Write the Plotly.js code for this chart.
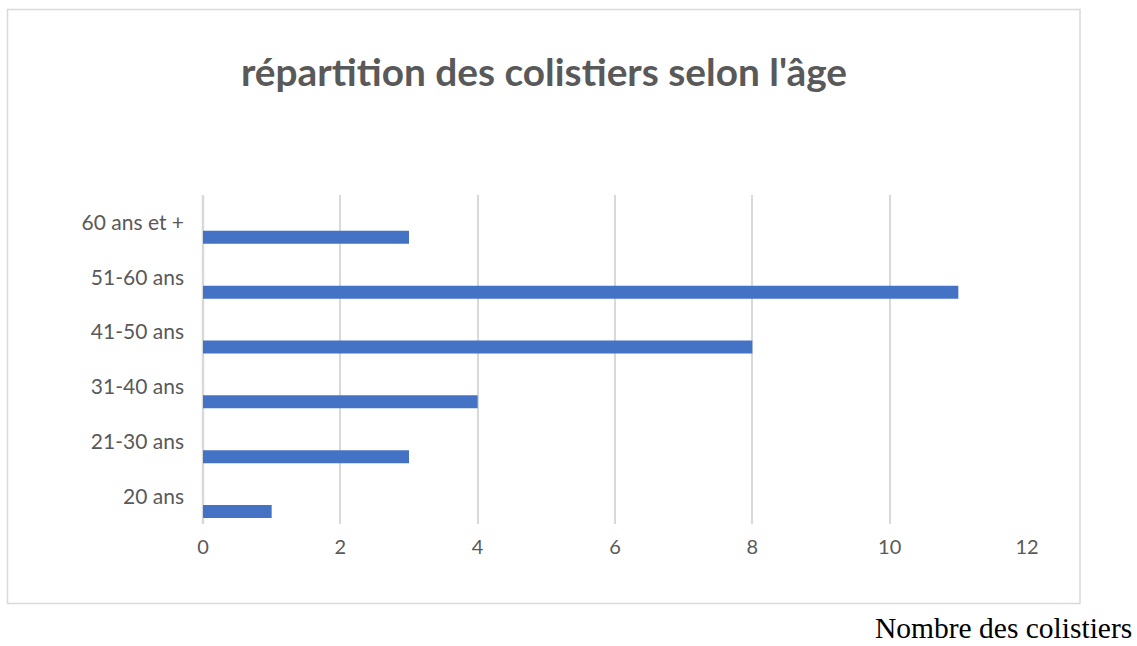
<!DOCTYPE html>
<html>
<head>
<meta charset="utf-8">
<script src="https://cdn.plot.ly/plotly-3.0.1.min.js"></script>
<style>html,body{margin:0;padding:0;background:#fff;}#chart{width:1137px;height:646px;}</style>
</head>
<body>
<div id="chart"></div>
<script>
const categories = ["20 ans", "21-30 ans", "31-40 ans", "41-50 ans", "51-60 ans", "60 ans et +"];
const values = [1, 3, 4, 8, 11, 3];
const xTicks = [0, 2, 4, 6, 8, 10, 12];
const titleText = "répartition des colistiers selon l'âge";
const xCaption = "Nombre des colistiers";

const L = 203, R = 1027, T = 195, B = 524;
const pw = R - L, ph = B - T;
const px = v => (v - L) / pw;
const py = v => (B - v) / ph;

const trace = {
  type: 'bar',
  orientation: 'h',
  x: values,
  y: categories,
  width: 0.237,
  offset: -0.39,
  marker: {color: '#4472C4'},
  hoverinfo: 'x+y'
};

const layout = {
  width: 1137, height: 646,
  margin: {l: L, r: 1137 - R, t: T, b: 646 - B},
  paper_bgcolor: '#ffffff', plot_bgcolor: 'rgba(0,0,0,0)',
  showlegend: false,
  font: {family: 'Lato, "Open Sans", sans-serif', color: '#595959', size: 20},
  title: {
    text: '<b>' + titleText + '</b>',
    font: {family: 'Lato, "Open Sans", sans-serif', size: 38.8, color: '#595959'},
    xref: 'container', yref: 'container',
    x: 544 / 1137, xanchor: 'center',
    y: 1 - 72 / 646, yanchor: 'middle'
  },
  xaxis: {
    range: [0, 12],
    tickvals: xTicks,
    ticktext: xTicks.map(String),
    showgrid: true, gridcolor: '#d9d9d9', gridwidth: 1.5,
    zeroline: false,
    showline: false,
    ticks: '', ticklabelstandoff: 9,
    tickfont: {size: 20, color: '#595959'},
    fixedrange: true
  },
  yaxis: {
    type: 'category',
    categoryorder: 'array', categoryarray: categories,
    range: [-0.5, 5.5],
    showgrid: false, zeroline: false, showline: false,
    ticks: '', ticklabelstandoff: 18,
    tickfont: {size: 21, color: '#595959'},
    fixedrange: true
  },
  shapes: [{
    type: 'rect', xref: 'paper', yref: 'paper', layer: 'below',
    x0: px(7.5), x1: px(1080), y0: py(603.5), y1: py(9.5),
    line: {color: '#d9d9d9', width: 1.5}, fillcolor: 'rgba(0,0,0,0)'
  }, {
    type: 'line', xref: 'paper', yref: 'paper', layer: 'below',
    x0: 0, x1: 0, y0: 0, y1: 1,
    line: {color: '#d9d9d9', width: 2.5}
  }],
  annotations: [{
    text: xCaption,
    xref: 'paper', yref: 'paper',
    x: px(1133), xanchor: 'right',
    y: py(645), yanchor: 'bottom',
    showarrow: false, borderpad: 0,
    font: {family: '"Liberation Serif", "Times New Roman", serif', size: 29.5, color: '#000000'}
  }]
};

Plotly.newPlot('chart', [trace], layout, {displayModeBar: false});
</script>
</body>
</html>
